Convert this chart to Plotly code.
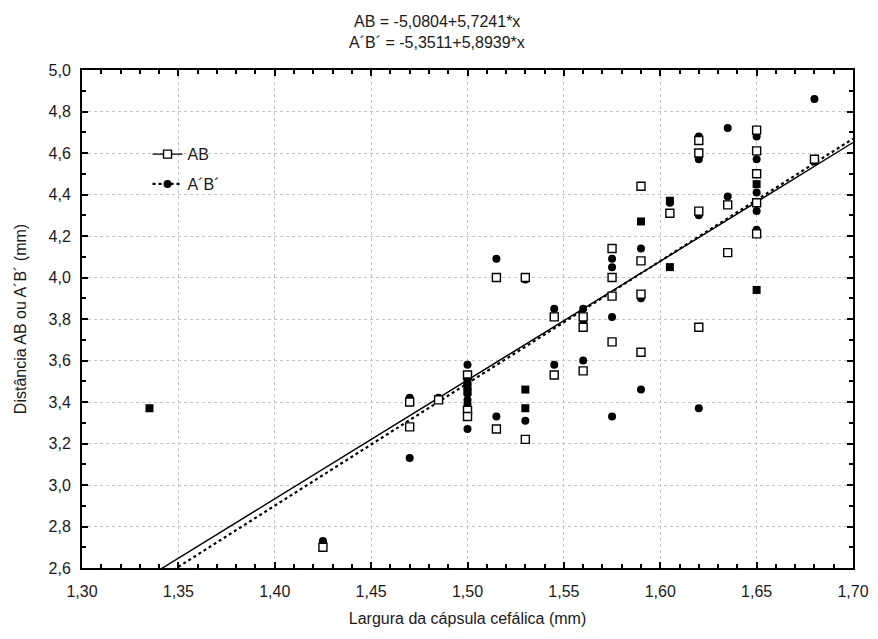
import numpy as np
import plotly.graph_objects as go

# AB (open squares)
ab_x = [1.425, 1.47, 1.47, 1.485, 1.50, 1.50, 1.50, 1.515, 1.515, 1.53, 1.53,
        1.545, 1.545, 1.56, 1.56, 1.56, 1.575, 1.575, 1.575, 1.575,
        1.59, 1.59, 1.59, 1.59, 1.605, 1.62, 1.62, 1.62, 1.62, 1.635, 1.635,
        1.65, 1.65, 1.65, 1.65, 1.65, 1.68]
ab_y = [2.70, 3.40, 3.28, 3.41, 3.53, 3.36, 3.33, 4.00, 3.27, 4.00, 3.22,
        3.81, 3.53, 3.81, 3.76, 3.55, 4.14, 4.00, 3.91, 3.69,
        4.44, 4.08, 3.92, 3.64, 4.31, 4.66, 4.60, 4.32, 3.76, 4.35, 4.12,
        4.71, 4.61, 4.50, 4.36, 4.21, 4.57]

# A'B' (filled circles)
apbp_x = [1.425, 1.425, 1.47, 1.47, 1.485, 1.50, 1.50, 1.50, 1.50, 1.50, 1.50,
          1.515, 1.515, 1.53, 1.53, 1.545, 1.545, 1.56, 1.56, 1.56,
          1.575, 1.575, 1.575, 1.575, 1.59, 1.59, 1.59, 1.605,
          1.62, 1.62, 1.62, 1.62, 1.635, 1.635,
          1.65, 1.65, 1.65, 1.65, 1.65, 1.68, 1.68]
apbp_y = [2.73, 2.72, 3.42, 3.13, 3.42, 3.58, 3.44, 3.41, 3.39, 3.37, 3.27,
          4.09, 3.33, 3.99, 3.31, 3.85, 3.58, 3.85, 3.78, 3.60,
          4.09, 4.05, 3.81, 3.33, 4.14, 3.90, 3.46, 4.36,
          4.68, 4.57, 4.30, 3.37, 4.72, 4.39,
          4.68, 4.57, 4.41, 4.32, 4.23, 4.86, 4.56]

# overlapping points (drawn as solid squares)
over_x = [1.335, 1.50, 1.50, 1.50, 1.53, 1.53, 1.59, 1.605, 1.605, 1.65, 1.65]
over_y = [3.37, 3.50, 3.47, 3.45, 3.46, 3.37, 4.27, 4.37, 4.05, 4.45, 3.94]

# regression coefficients
ab_a, ab_b = -5.0804, 5.7241
apbp_a, apbp_b = -5.3511, 5.8939

xr = np.array([1.30, 1.70])

font = "Liberation Sans, Arial, sans-serif"
txt = "#1a1a1a"
fs = 16

fig = go.Figure()

fig.add_trace(go.Scatter(
    x=xr, y=ab_a + ab_b * xr, mode="lines",
    line=dict(color="black", width=1.4), showlegend=False, hoverinfo="skip"))
fig.add_trace(go.Scatter(
    x=xr, y=apbp_a + apbp_b * xr, mode="lines",
    line=dict(color="black", width=2.2, dash="dot"), showlegend=False, hoverinfo="skip"))

fig.add_trace(go.Scatter(
    x=apbp_x, y=apbp_y, mode="markers", showlegend=False,
    marker=dict(symbol="circle", size=8, color="black")))
fig.add_trace(go.Scatter(
    x=ab_x, y=ab_y, mode="markers", showlegend=False,
    marker=dict(symbol="square", size=8, color="white",
                line=dict(color="black", width=1.4))))
fig.add_trace(go.Scatter(
    x=over_x, y=over_y, mode="markers", showlegend=False,
    marker=dict(symbol="square", size=8, color="black")))

# legend entries
fig.add_trace(go.Scatter(
    x=[None], y=[None], mode="lines+markers", name="AB", legendgroup="ab",
    line=dict(color="black", width=1.4),
    marker=dict(symbol="square", size=8, color="white",
                line=dict(color="black", width=1.4))))
fig.add_trace(go.Scatter(
    x=[None], y=[None], mode="lines+markers", name="A´B´", legendgroup="apbp",
    line=dict(color="black", width=2.2, dash="dot"),
    marker=dict(symbol="circle", size=8, color="black")))

axis_common = dict(
    showline=True, linecolor="black", linewidth=2, mirror="ticks",
    ticks="inside", ticklen=6, tickcolor="black", tickwidth=1.5,
    showgrid=True, gridcolor="#c4c4c4", griddash="dot", gridwidth=1,
    zeroline=False, automargin=False,
    tickfont=dict(family=font, size=fs, color=txt),
)

fig.update_xaxes(
    range=[1.30, 1.70], dtick=0.05, tickformat=".2f", ticklabelstandoff=8,
    minor=dict(dtick=0.01, ticks="inside", ticklen=4, tickcolor="black", showgrid=False),
    title=dict(text="Largura da cápsula cefálica (mm)",
               font=dict(family=font, size=fs, color=txt), standoff=14),
    **axis_common)
fig.update_yaxes(
    range=[2.6, 5.0], dtick=0.2, tickformat=".1f", ticklabelstandoff=6,
    minor=dict(dtick=0.1, ticks="inside", ticklen=4, tickcolor="black", showgrid=False),
    title=dict(text="Distância AB ou A´B´ (mm)",
               font=dict(family=font, size=fs, color=txt), standoff=18),
    **axis_common)

eq1 = f"AB = {ab_a:.4f}+{ab_b:.4f}*x".replace(".", ",")
eq2 = f"A´B´ = {apbp_a:.4f}+{apbp_b:.4f}*x".replace(".", ",")
for text, yy in [(eq1, 1.098), (eq2, 1.056)]:
    fig.add_annotation(text=text, xref="paper", yref="paper", x=0.46, y=yy,
                       xanchor="center", yanchor="middle", showarrow=False,
                       font=dict(family=font, size=fs, color=txt))

fig.update_layout(
    width=878, height=639,
    separators=",.",
    plot_bgcolor="white", paper_bgcolor="white",
    margin=dict(l=82, r=25, t=70, b=71),
    legend=dict(x=0.085, y=0.865, xanchor="left", yanchor="top",
                bgcolor="rgba(0,0,0,0)", font=dict(family=font, size=fs, color=txt),
                tracegroupgap=6, traceorder="grouped"),
    font=dict(family=font),
)

fig.write_html("out.html", config={"displayModeBar": False},
               post_script="document.body.style.margin='0';"
                           "document.body.style.overflow='hidden';")
